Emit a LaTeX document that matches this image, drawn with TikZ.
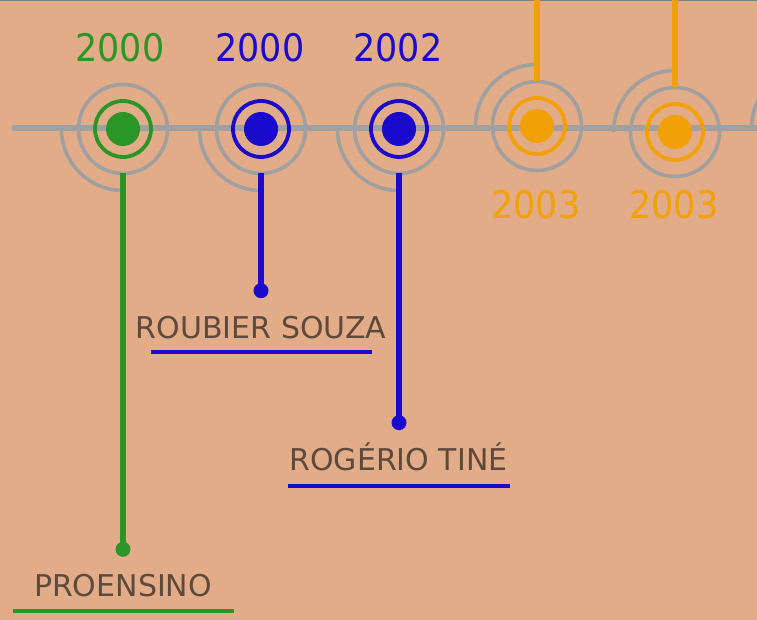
\documentclass[tikz,border=0pt]{standalone}
\usepackage{fontspec}
\setmainfont{DejaVu Sans}
\newfontfamily\yearfont{DejaVu Sans}[FakeStretch=0.92]
\definecolor{bg}{HTML}{E2AC88}
\definecolor{tgreen}{HTML}{2A9628}
\definecolor{tblue}{HTML}{1A0ACB}
\definecolor{torange}{HTML}{F2A007}
\definecolor{tgray}{HTML}{A0A0A0}
\definecolor{ttext}{HTML}{5E4A3C}
\definecolor{tborder}{HTML}{808080}
\tikzset{
  outerring/.style={circle, draw=tgray, line width=3.6pt, minimum size=89pt, inner sep=0pt, outer sep=0pt},
  colring/.style={circle, draw=#1, line width=3.8pt, minimum size=56pt, inner sep=0pt, outer sep=0pt},
  coldot/.style={circle, fill=#1, minimum size=34pt, inner sep=0pt, outer sep=0pt},
  enddot/.style={circle, fill=#1, minimum size=15pt, inner sep=0pt, outer sep=0pt},
  conn/.style={draw=#1, line width=5.2pt},
  grayarc/.style={draw=tgray, line width=3.6pt},
  yearlbl/.style={text=#1, font=\yearfont\fontsize{38}{44}\selectfont, anchor=base, inner sep=0pt},
  namelbl/.style={text=ttext, font=\fontsize{30}{36}\selectfont, anchor=base, inner sep=0pt},
  uline/.style={draw=#1, line width=4pt},
}
\begin{document}
\begin{tikzpicture}[x=1pt,y=1pt]
\useasboundingbox (0,0) rectangle (757,620);
\fill[bg] (0,0) rectangle (757,620);
\draw[tborder, line width=2pt] (0,620) -- (757,620);
% axis
\coordinate (axL) at (12,492);
\coordinate (axR) at (770,492);
\draw[tgray, line width=6pt] (axL) -- (axR);
% gray arcs
\draw[grayarc] (123,491) ++(-61.5,0) arc[start angle=180, end angle=270, radius=61.5pt];
\draw[grayarc] (261,491) ++(-61.5,0) arc[start angle=180, end angle=270, radius=61.5pt];
\draw[grayarc] (399,491) ++(-61.5,0) arc[start angle=180, end angle=270, radius=61.5pt];
\draw[grayarc] (537,494) ++(-61.5,0) arc[start angle=180, end angle=90, radius=61.5pt];
\draw[grayarc] (675,488) ++(-61.5,0) arc[start angle=180, end angle=90, radius=61.5pt];
\draw[grayarc] (813,492) ++(-61.5,0) arc[start angle=180, end angle=90, radius=61.5pt];
% milestones
\node[outerring] (gO) at (123,491) {};
\node[colring=tgreen] (gR) at (123,491) {};
\node[coldot=tgreen] (gD) at (123,491) {};
\node[outerring] (b1O) at (261,491) {};
\node[colring=tblue] (b1R) at (261,491) {};
\node[coldot=tblue] (b1D) at (261,491) {};
\node[outerring] (b2O) at (399,491) {};
\node[colring=tblue] (b2R) at (399,491) {};
\node[coldot=tblue] (b2D) at (399,491) {};
\node[outerring] (o1O) at (537,494) {};
\node[colring=torange] (o1R) at (537,494) {};
\node[coldot=torange] (o1D) at (537,494) {};
\node[outerring] (o2O) at (675,488) {};
\node[colring=torange] (o2R) at (675,488) {};
\node[coldot=torange] (o2D) at (675,488) {};
% end dots
\node[enddot=tgreen] (gE) at (123,70.7) {};
\node[enddot=tblue] (b1E) at (261,329.3) {};
\node[enddot=tblue] (b2E) at (399,197.3) {};
\coordinate (o1T) at (537,621);
\coordinate (o2T) at (675,621);
% connectors
\draw[conn=tgreen] (gO.south) -- (gE.center);
\draw[conn=tblue] (b1O.south) -- (b1E.center);
\draw[conn=tblue] (b2O.south) -- (b2E.center);
\draw[conn=torange] (o1O.north) -- (o1T);
\draw[conn=torange] (o2O.north) -- (o2T);
% years
\node[yearlbl=tgreen] (gY) at (120,558) {2000};
\node[yearlbl=tblue] (b1Y) at (260,558) {2000};
\node[yearlbl=tblue] (b2Y) at (398,558) {2002};
\node[yearlbl=torange] (o1Y) at (536,401.7) {2003};
\node[yearlbl=torange] (o2Y) at (674,401.7) {2003};
% names
\node[namelbl] (gN) at (123,23.3) {PROENSINO};
\node[namelbl] (b1N) at (261,281.7) {ROUBIER SOUZA};
\node[namelbl] (b2N) at (398.5,149) {ROGÉRIO TINÉ};
\draw[uline=tgreen] (13,9) -- (234,9);
\draw[uline=tblue] (151,268) -- (372,268);
\draw[uline=tblue] (288,134.3) -- (510,134.3);
\end{tikzpicture}
\end{document}
